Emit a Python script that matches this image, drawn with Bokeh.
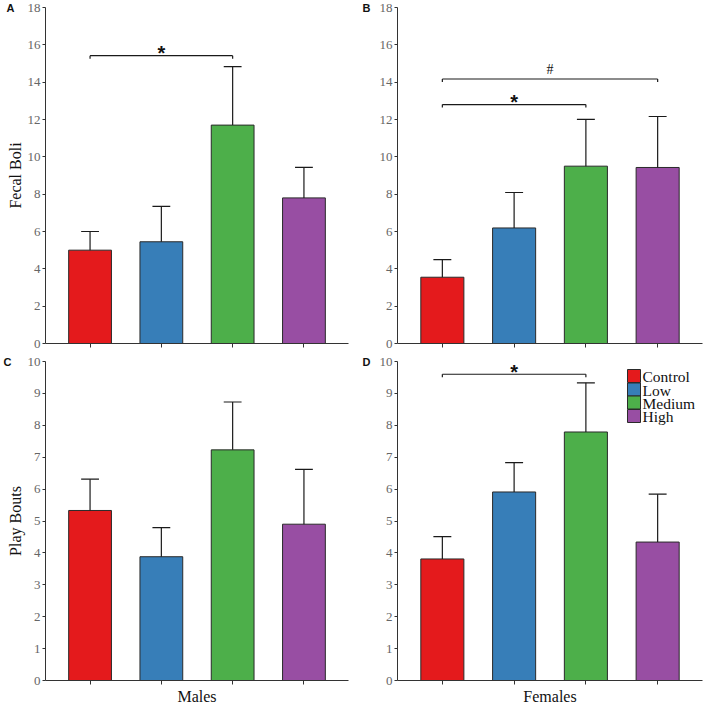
from bokeh.plotting import figure
from bokeh.layouts import gridplot
from bokeh.models import Range1d, FixedTicker, Title
from bokeh.core.properties import value
from bokeh.embed import file_html
from bokeh.resources import INLINE

groups = ["Control", "Low", "Medium", "High"]
colors = ["#E41A1C", "#377EB8", "#4DAF4A", "#984EA3"]

male_boli = [5.0, 5.45, 11.7, 7.8]
male_boli_err = [1.0, 1.9, 3.13, 1.63]
female_boli = [3.55, 6.19, 9.5, 9.43]
female_boli_err = [0.94, 1.9, 2.51, 2.73]
male_play = [5.33, 3.88, 7.23, 4.9]
male_play_err = [0.98, 0.91, 1.5, 1.72]
female_play = [3.81, 5.91, 7.79, 4.34]
female_play_err = [0.7, 0.92, 1.54, 1.5]

boli_ticks = [0, 2, 4, 6, 8, 10, 12, 14, 16, 18]
play_ticks = [0, 1, 2, 3, 4, 5, 6, 7, 8, 9, 10]

# significance brackets: (from group, to group, y, symbol)
sig_A = [(0, 2, 15.42, "*")]
sig_B = [(0, 2, 12.8, "*"), (0, 3, 14.17, "#")]
sig_C = []
sig_D = [(0, 2, 9.6, "*")]

SERIF = "Liberation Serif"
SANS = "Liberation Sans"


def panel(vals, errs, ymax, ticks, letter, ylabel, xlabel, sigs,
          W, H, bl, br, bt, bb, letter_x, legend=False):
    p = figure(width=W, height=H, output_backend="svg",
               toolbar_location=None, tools="",
               x_range=Range1d(-0.625, 3.625), y_range=Range1d(0, ymax),
               min_border_left=bl, min_border_right=br,
               min_border_top=bt, min_border_bottom=bb)
    p.outline_line_color = None
    p.grid.visible = False
    p.background_fill_color = "white"

    fw = W - bl - br
    fh = H - bt - bb
    ux = 4.25 / fw
    pxu = fh / ymax

    xs = list(range(len(groups)))
    p.vbar(x=xs, top=vals, width=0.6, bottom=0,
           fill_color=colors, line_color="#2a2a2a", line_width=1)
    tops = [v + e for v, e in zip(vals, errs)]
    p.segment(x0=xs, y0=vals, x1=xs, y1=tops, line_color="#1a1a1a", line_width=1.2)
    p.segment(x0=[x - 0.125 for x in xs], y0=tops, x1=[x + 0.125 for x in xs], y1=tops,
              line_color="#1a1a1a", line_width=1.2)

    # brackets
    tick = 3.0 / pxu
    for (a, b, y, sym) in sigs:
        p.segment(x0=[a, a, b], y0=[y, y, y], x1=[b, a, b], y1=[y, y - tick, y - tick],
                  line_color="#1a1a1a", line_width=1.2)
        if sym == "*":
            p.text(x=[(a + b) / 2], y=[y + 2.5 / pxu], text=[sym],
                   text_align="center", text_baseline="middle",
                   text_font=value(SANS), text_font_style="bold",
                   text_font_size="20px", text_color="#111111")
        else:
            p.text(x=[(a + b) / 2], y=[y + 9.0 / pxu], text=[sym],
                   text_align="center", text_baseline="middle",
                   text_font=value(SERIF), text_font_size="14px",
                   text_color="#111111")

    # axes
    p.yaxis.ticker = FixedTicker(ticks=ticks)
    p.yaxis.minor_tick_line_color = None
    p.yaxis.major_tick_in = 0
    p.yaxis.major_tick_out = 3
    p.yaxis.major_label_standoff = 2
    p.yaxis.major_label_text_font = SERIF
    p.yaxis.major_label_text_font_size = "13px"
    p.yaxis.major_label_text_color = "#666666"
    p.yaxis.axis_line_color = "#333333"
    p.yaxis.major_tick_line_color = "#333333"
    if ylabel:
        p.yaxis.axis_label = ylabel
        p.yaxis.axis_label_text_font = SERIF
        p.yaxis.axis_label_text_font_style = "normal"
        p.yaxis.axis_label_text_font_size = "16px"
        p.yaxis.axis_label_text_color = "#111111"
        p.yaxis.axis_label_standoff = 1

    p.xaxis.ticker = FixedTicker(ticks=xs)
    p.xaxis.major_label_overrides = {i: "" for i in xs}
    p.xaxis.major_label_text_font_size = "0px"
    p.xaxis.major_label_standoff = 0
    p.xaxis.minor_tick_line_color = None
    p.xaxis.major_tick_in = 0
    p.xaxis.major_tick_out = 4
    p.xaxis.axis_line_color = "#333333"
    p.xaxis.major_tick_line_color = "#333333"
    if xlabel:
        p.xaxis.axis_label = xlabel
        p.xaxis.axis_label_text_font = SERIF
        p.xaxis.axis_label_text_font_style = "normal"
        p.xaxis.axis_label_text_font_size = "16px"
        p.xaxis.axis_label_text_color = "#111111"
        p.xaxis.axis_label_standoff = 3

    # panel letter
    p.add_layout(Title(text=letter, align="left", offset=letter_x - bl, standoff=-15,
                       vertical_align="middle",
                       text_font=SANS, text_font_style="bold", text_font_size="11px",
                       text_color="#111111"), "above")

    if legend:
        lx = -0.625 + 236.5 * ux
        tx = -0.625 + 245.0 * ux
        offs = [14.5, 28.0, 41.0, 54.5]
        ly = [ymax - o / pxu for o in offs]
        p.rect(x=[lx] * 4, y=ly, width=13, height=13, width_units="screen",
               height_units="screen", fill_color=colors, line_color="#2a2a2a",
               line_width=1)
        p.text(x=[tx] * 4, y=[v - 0.5 / pxu for v in ly], text=groups,
               text_align="left", text_baseline="middle",
               text_font=value(SERIF), text_font_size="15.5px", text_color="#111111")
    return p


pA = panel(male_boli, male_boli_err, 18, boli_ticks, "A", "Fecal Boli", None, sig_A,
           354, 354, 42, 6, 7, 11, 3)
pB = panel(female_boli, female_boli_err, 18, boli_ticks, "B", None, None, sig_B,
           354, 354, 43, 6, 7, 11, 8)
pC = panel(male_play, male_play_err, 10, play_ticks, "C", "Play Bouts", "Males", sig_C,
           354, 354, 45, 6, 7, 28, 3)
pD = panel(female_play, female_play_err, 10, play_ticks, "D", None, "Females", sig_D,
           354, 354, 43, 6, 7, 28, 8, legend=True)

grid = gridplot([[pA, pB], [pC, pD]], toolbar_location=None)

open("out.html", "w").write(file_html(grid, INLINE))
